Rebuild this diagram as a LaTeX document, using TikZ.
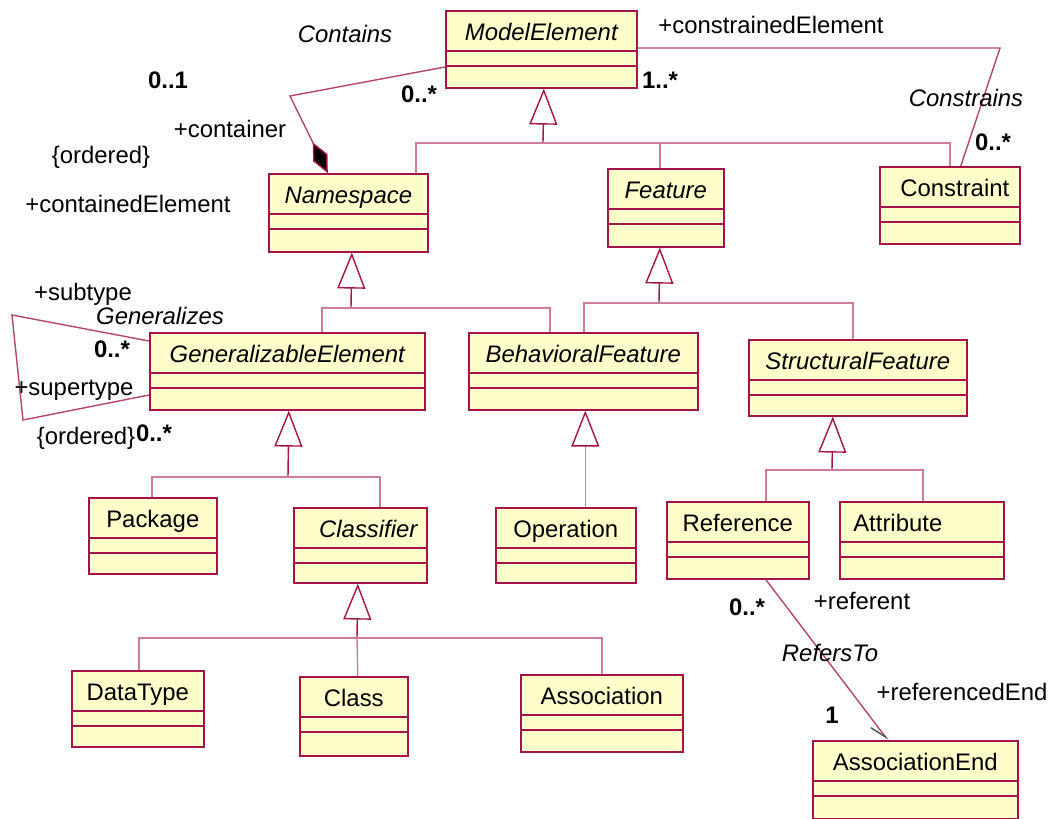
\documentclass[tikz,border=0pt]{standalone}
\usepackage{fontspec}
\setmainfont{Liberation Sans}
\usetikzlibrary{arrows.meta}

\definecolor{umlborder}{RGB}{165,20,70}
\definecolor{umlfill}{RGB}{255,255,204}
\definecolor{umlline}{RGB}{205,125,155}
\definecolor{assocline}{RGB}{180,70,110}

\newcommand{\umlfont}{\fontsize{23.9}{28}\selectfont}

\tikzset{
  classbox/.style={draw=umlborder, fill=umlfill, line width=1.6pt, inner sep=0pt},
  classdiv/.style={draw=umlborder, line width=1.6pt},
  classname/.style={anchor=base, inner sep=0pt, font=\umlfont},
  tree/.style={draw=umlline, line width=1.4pt},
  gentip/.style={-{Triangle[open, length=36pt, width=28pt, color=umlborder]}},
  gen/.style={draw=umlborder, line width=1.4pt, gentip},
  assoc/.style={draw=assocline, line width=1.4pt},
  lbl/.style={anchor=base, inner sep=0pt, font=\umlfont},
  mult/.style={lbl, font=\umlfont\bfseries},
  assocname/.style={lbl, font=\umlfont\itshape},
}

% [label shift]{name}{x}{y}{width}{height}{label}
\newcommand{\umlclass}[7][0]{%
  \node[classbox, minimum width=#5pt, minimum height=#6pt, anchor=north west] (#2) at (#3,#4) {};
  \node[classname] (#2-name) at ([xshift=#1pt, yshift=-30pt]#2.north) {#7};
  \draw[classdiv] ([yshift=-41pt]#2.north west) -- ([yshift=-41pt]#2.north east);
  \draw[classdiv] ([yshift=-56pt]#2.north west) -- ([yshift=-56pt]#2.north east);
}

\begin{document}
\begin{tikzpicture}[x=1pt, y=-1pt]
\useasboundingbox (0,0) rectangle (1060,819);

% classes
\umlclass{me}{445}{10}{191}{77}{\itshape ModelElement}
\umlclass{ns}{268}{173}{159}{78}{\itshape Namespace}
\umlclass{feat}{607}{168}{116}{78}{\itshape Feature}
\umlclass[5]{cons}{879}{166}{140}{77}{Constraint}
\umlclass{ge}{149}{332}{275}{77}{\itshape GeneralizableElement}
\umlclass{bf}{468}{332}{229}{77}{\itshape BehavioralFeature}
\umlclass{sf}{748}{339}{218}{76}{\itshape StructuralFeature}
\umlclass{pkg}{88}{497}{128}{76}{Package}
\umlclass[8]{clf}{293}{507}{133}{75}{\itshape Classifier}
\umlclass{op}{495}{507}{140}{75}{Operation}
\umlclass{ref}{666}{501}{142}{77}{Reference}
\umlclass[-24]{attr}{839}{501}{164}{77}{Attribute}
\umlclass{dt}{71}{670}{132}{76}{DataType}
\umlclass{cls}{299}{676}{108}{79}{Class}
\umlclass{assoc}{520}{674}{162}{77}{Association}
\umlclass{ae}{812}{740}{205}{78}{AssociationEnd}

% generalizations
\coordinate (me-bar) at (543,143);
\draw[gen] (me-bar) -- ([xshift=2.5pt]me.south);
\draw[tree] ([xshift=67.5pt]ns.north) |- (me-bar) -| (cons.north);
\draw[tree] (me-bar) -| ([xshift=-6pt]feat.north);

\coordinate (ns-bar) at (351,308);
\draw[gen] (ns-bar) -- ([xshift=3.5pt]ns.south);
\draw[tree] ([xshift=34.5pt]ge.north) |- (ns-bar) -| ([xshift=-33.5pt]bf.north);

\coordinate (feat-bar) at (659,303);
\draw[gen] (feat-bar) -- ([xshift=-6pt]feat.south);
\draw[tree] ([xshift=0.5pt]bf.north) |- (feat-bar) -| ([xshift=-5pt]sf.north);

\coordinate (ge-bar) at (288,477);
\draw[gen] (ge-bar) -- ([xshift=1.5pt]ge.south);
\draw[tree] ([xshift=-1pt]pkg.north) |- (ge-bar) -| ([xshift=19.5pt]clf.north);

\draw[tree, gentip] ([xshift=19.5pt]op.north) -- ([xshift=2pt]bf.south);

\coordinate (sf-bar) at (832,470);
\draw[gen] (sf-bar) -- ([xshift=-25pt]sf.south);
\draw[tree] ([xshift=28pt]ref.north) |- (sf-bar) -| ([xshift=1pt]attr.north);

\coordinate (clf-bar) at (357,638);
\draw[gen] (clf-bar) -- ([xshift=-2.5pt]clf.south);
\draw[tree] ([xshift=1pt]dt.north) |- (clf-bar) -| (assoc.north);
\draw[tree] (clf-bar) -- ([xshift=4pt]cls.north);

% Contains
\coordinate (contains-bend) at (290,96);
\draw[assoc, -{Diamond[length=34pt, width=16pt, fill=black, color=umlborder]}]
  ([yshift=-57pt]me.north west) -- (contains-bend) -- ([xshift=-20.5pt]ns.north);
\node[assocname] (contains) at (345,42) {Contains};
\node[mult] at (168,88) {0..1};
\node[mult] at (419,102) {0..*};
\node[lbl] at (230,137) {+container};
\node[lbl] at (101,163) {\{ordered\}};
\node[lbl] at (128,212) {+containedElement};

% Constrains
\coordinate (constrains-bend) at (1000,48);
\draw[assoc] ([yshift=-38pt]me.north east) -- (constrains-bend) -- ([xshift=11pt]cons.north);
\node[lbl] at (771,33) {+constrainedElement};
\node[mult] at (660,88) {1..*};
\node[assocname] (constrains) at (966,106) {Constrains};
\node[mult] at (993,150) {0..*};

% Generalizes
\coordinate (gen-top) at (12,315);
\coordinate (gen-bottom) at (23,420);
\draw[assoc] ([yshift=-9pt]ge.north west) -- (gen-top) -- (gen-bottom) -- ([yshift=-63pt]ge.north west);
\node[lbl] at (83,300) {+subtype};
\node[assocname] (generalizes) at (160,324) {Generalizes};
\node[mult] at (112,357) {0..*};
\node[lbl] at (74,395) {+supertype};
\node[lbl] at (86,444) {\{ordered\}};
\node[mult] at (154,441) {0..*};

% RefersTo
\draw[assoc, -{Straight Barb[right, length=16pt, width=12pt, color=black!70]}]
  ([xshift=28pt]ref.south) -- ([xshift=-27.5pt]ae.north);
\node[mult] at (747,615) {0..*};
\node[lbl] at (862,609) {+referent};
\node[assocname] (refersto) at (830,661) {RefersTo};
\node[lbl] at (962,700) {+referencedEnd};
\node[mult] at (832,723) {1};
\end{tikzpicture}
\end{document}
